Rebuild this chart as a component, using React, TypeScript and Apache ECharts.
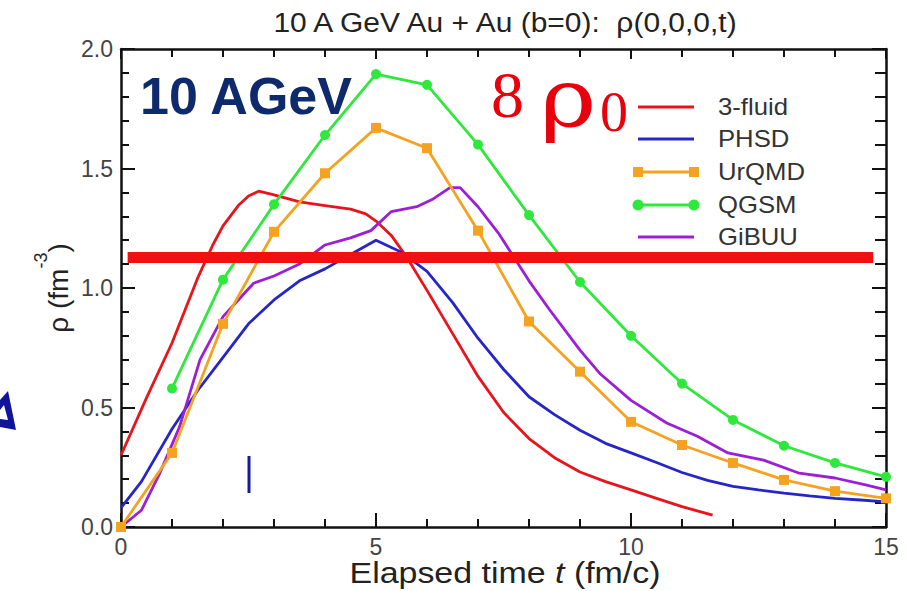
import React, { useEffect, useRef } from "react";
import * as echarts from "echarts";

// ---- data ----
const fluidT = [0, 0.5, 1.0, 1.5, 1.8, 2.0, 2.3, 2.5, 2.7, 3.0, 3.5, 4.0, 4.5, 4.8, 5.0, 5.3, 5.6, 6.0, 6.5, 7.0, 7.5, 8.0, 8.5, 9.0, 9.5, 10, 10.5, 11, 11.6];
const fluidRho = [0.3, 0.54, 0.77, 1.04, 1.18, 1.26, 1.345, 1.385, 1.405, 1.39, 1.36, 1.345, 1.33, 1.31, 1.28, 1.22, 1.13, 0.99, 0.81, 0.63, 0.48, 0.37, 0.29, 0.23, 0.19, 0.155, 0.12, 0.085, 0.05];

const phsdT = [0, 0.4, 1.0, 1.5, 2.0, 2.5, 3.0, 3.5, 4.0, 4.5, 5.0, 5.5, 6.0, 6.5, 7.0, 7.5, 8.0, 8.5, 9.0, 9.5, 10, 10.5, 11, 11.5, 12, 12.5, 13, 13.5, 14, 14.5, 15];
const phsdRho = [0.08, 0.19, 0.41, 0.57, 0.71, 0.85, 0.95, 1.03, 1.08, 1.14, 1.2, 1.15, 1.07, 0.94, 0.79, 0.66, 0.545, 0.47, 0.405, 0.35, 0.31, 0.27, 0.228, 0.195, 0.17, 0.155, 0.142, 0.13, 0.12, 0.113, 0.105];

const urqmdT = [0, 1, 2, 3, 4, 5, 6, 7, 8, 9, 10, 11, 12, 13, 14, 15];
const urqmdRho = [0.0, 0.31, 0.85, 1.235, 1.48, 1.67, 1.585, 1.24, 0.86, 0.65, 0.44, 0.343, 0.268, 0.197, 0.15, 0.12];

const qgsmT = [1, 2, 3, 4, 5, 6, 7, 8, 9, 10, 11, 12, 13, 14, 15];
const qgsmRho = [0.58, 1.035, 1.35, 1.64, 1.895, 1.85, 1.6, 1.305, 1.025, 0.8, 0.6, 0.448, 0.34, 0.268, 0.21];

const gibuuT = [0, 0.4, 0.75, 1.15, 1.55, 2.0, 2.3, 2.6, 3.0, 3.5, 4.0, 4.5, 4.9, 5.3, 5.8, 6.1, 6.45, 6.65, 7.0, 7.4, 8.0, 8.4, 9.0, 9.4, 10, 10.7, 11.3, 11.9, 12.6, 13.3, 14.0, 14.6, 15];
const gibuuRho = [0, 0.07, 0.22, 0.42, 0.7, 0.88, 0.95, 1.02, 1.05, 1.1, 1.18, 1.21, 1.24, 1.32, 1.34, 1.37, 1.42, 1.42, 1.34, 1.23, 1.03, 0.91, 0.74, 0.64, 0.53, 0.435, 0.38, 0.31, 0.28, 0.225, 0.205, 0.176, 0.155];

const barT = [0.13, 14.75];
const barRho = [1.128, 1.128];

const seriesNames = ["3-fluid", "PHSD", "UrQMD", "QGSM", "GiBUU"];
const seriesColors = ["#e8141c", "#2626c8", "#f5a220", "#2ee83c", "#9b1fd6"];
const yTickLabels = ["0.0", "0.5", "1.0", "1.5", "2.0"];
const xTickLabels = ["0", "5", "10", "15"];

const SANS = "'Liberation Sans', Arial, Helvetica, sans-serif";
const SERIF = "'Liberation Serif', 'Times New Roman', serif";
const GREEK_SERIF = "'DejaVu Serif', 'Liberation Serif', serif";

const zip = (a: number[], b: number[]) => a.map((v, i) => [v, b[i]]);

export default function App() {
  const ref = useRef<HTMLDivElement>(null);
  useEffect(() => {
    if (!ref.current) return;
    const chart = echarts.init(ref.current, undefined, { renderer: "svg" });
    const axisCommon = {
      type: "value" as const,
      axisLine: { show: true, onZero: false, lineStyle: { color: "#111", width: 2.5 } },
      axisTick: { show: true, inside: true, length: 14, lineStyle: { color: "#111", width: 2 } },
      minorTick: { show: true, splitNumber: 5, length: 8, lineStyle: { color: "#111", width: 2 } },
      splitLine: { show: false },
      minorSplitLine: { show: false },
    };
    const lineSeries = (name: string, color: string, data: number[][], extra: any = {}) => ({
      name,
      type: "line",
      data,
      showSymbol: false,
      symbol: "none",
      lineStyle: { color, width: 2.8 },
      itemStyle: { color },
      clip: true,
      ...extra,
    });

    const legendY = [107, 139, 172, 205, 237];
    const legendGraphics: any[] = [];
    seriesNames.forEach((n, i) => {
      const y = legendY[i];
      const c = seriesColors[i];
      legendGraphics.push({
        type: "line",
        shape: { x1: 638, y1: y, x2: 694, y2: y },
        style: { stroke: c, lineWidth: 3 },
      });
      if (n === "UrQMD") {
        [638, 694].forEach((x) =>
          legendGraphics.push({ type: "rect", shape: { x: x - 5, y: y - 5, width: 10, height: 10 }, style: { fill: c } })
        );
      }
      if (n === "QGSM") {
        [638, 694].forEach((x) =>
          legendGraphics.push({ type: "circle", shape: { cx: x, cy: y, r: 5.5 }, style: { fill: c } })
        );
      }
      legendGraphics.push({
        type: "text",
        x: 718,
        y,
        scaleX: 1.07,
        style: { text: n, fill: "#333", font: `24px ${SANS}`, textAlign: "left", textVerticalAlign: "middle" },
      });
    });

    chart.setOption({
      animation: false,
      backgroundColor: "#ffffff",
      grid: { left: 121, right: 23, top: 49, bottom: 64 },
      xAxis: [
        {
          ...axisCommon,
          min: 0,
          max: 15,
          interval: 5,
          position: "bottom",
          axisLabel: {
            color: "#444",
            fontSize: 23,
            fontFamily: SANS,
            margin: 8,
            formatter: (_v: number, i: number) => xTickLabels[i],
          },
        },
        {
          ...axisCommon,
          min: 0,
          max: 15,
          interval: 5,
          position: "top",
          axisTick: { ...axisCommon.axisTick, length: 10 },
          axisLabel: { show: false },
        },
      ],
      yAxis: [
        {
          ...axisCommon,
          min: 0,
          max: 2,
          interval: 0.5,
          position: "left",
          axisLabel: {
            color: "#444",
            fontSize: 23,
            fontFamily: SANS,
            margin: 8,
            formatter: (_v: number, i: number) => yTickLabels[i],
          },
        },
        {
          ...axisCommon,
          min: 0,
          max: 2,
          interval: 0.5,
          position: "right",
          axisTick: { ...axisCommon.axisTick, length: 14 },
          minorTick: { ...axisCommon.minorTick, length: 11 },
          axisLabel: { show: false },
        },
      ],
      series: [
        lineSeries(seriesNames[0], seriesColors[0], zip(fluidT, fluidRho)),
        lineSeries(seriesNames[1], seriesColors[1], zip(phsdT, phsdRho)),
        lineSeries(seriesNames[4], seriesColors[4], zip(gibuuT, gibuuRho)),
        lineSeries(seriesNames[2], seriesColors[2], zip(urqmdT, urqmdRho), {
          showSymbol: true,
          symbol: "rect",
          symbolSize: 10,
        }),
        lineSeries(seriesNames[3], seriesColors[3], zip(qgsmT, qgsmRho), {
          showSymbol: true,
          symbol: "circle",
          symbolSize: 10,
        }),
        {
          name: "8rho0",
          type: "line",
          data: zip(barT, barRho),
          symbol: "none",
          lineStyle: { color: "#f01010", width: 11 },
          silent: true,
          z: 5,
        },
      ],
      graphic: [
        {
          type: "text",
          x: 505,
          y: 22,
          scaleX: 1.07,
          style: {
            text: "10 A GeV Au + Au (b=0):  ρ(0,0,0,t)",
            fill: "#222",
            font: `28px ${SANS}`,
            textAlign: "center",
            textVerticalAlign: "middle",
          },
        },
        {
          type: "text",
          x: 505,
          y: 573,
          scaleX: 1.17,
          style: {
            text: "{a|Elapsed time }{i|t}{a| (fm/c)}",
            fill: "#222",
            textAlign: "center",
            textVerticalAlign: "middle",
            rich: {
              a: { fontSize: 29, fontFamily: SANS, fill: "#222" },
              i: { fontSize: 29, fontFamily: SANS, fontStyle: "italic", fill: "#222" },
            },
          },
        },
        {
          type: "text",
          x: 52,
          y: 288,
          rotation: Math.PI / 2,
          style: {
            text: "{a|ρ (fm}{s|-3}{a|)}",
            fill: "#222",
            textAlign: "center",
            textVerticalAlign: "middle",
            rich: {
              a: { fontSize: 28, fontFamily: SANS, fill: "#222", lineHeight: 40, verticalAlign: "bottom" },
              s: { fontSize: 18, fontFamily: SANS, fill: "#222", lineHeight: 40, verticalAlign: "top" },
            },
          },
        },
        {
          type: "text",
          x: 140,
          y: 96,
          style: {
            text: "10 AGeV",
            fill: "#0f2a6c",
            font: `bold 52px ${SANS}`,
            textAlign: "left",
            textVerticalAlign: "middle",
          },
        },
        {
          type: "text",
          x: 491,
          y: 94,
          style: {
            text: "8",
            fill: "#e8000c",
            font: `66px ${SERIF}`,
            textAlign: "left",
            textVerticalAlign: "middle",
          },
        },
        {
          type: "text",
          x: 540,
          y: 98,
          scaleX: 1.2,
          style: {
            text: "ρ",
            fill: "#e8000c",
            font: `80px ${GREEK_SERIF}`,
            textAlign: "left",
            textVerticalAlign: "middle",
          },
        },
        {
          type: "text",
          x: 600,
          y: 112,
          style: {
            text: "0",
            fill: "#e8000c",
            font: `56px ${SERIF}`,
            textAlign: "left",
            textVerticalAlign: "middle",
          },
        },
        {
          type: "line",
          shape: { x1: 249, y1: 456, x2: 249, y2: 493 },
          style: { stroke: "#1a1aa0", lineWidth: 3 },
        },
        {
          type: "polygon",
          shape: {
            points: [
              [0, 400],
              [8, 391],
              [16, 430],
              [0, 427],
              [0, 419],
              [8, 420],
              [4, 405],
              [0, 410],
            ],
          },
          style: { fill: "#10149a" },
        },
        ...legendGraphics,
      ],
    });
    return () => chart.dispose();
  }, []);
  return (
    <div
      ref={ref}
      style={{ position: "absolute", left: 0, top: 0, width: 909, height: 591, background: "#fff" }}
    />
  );
}
